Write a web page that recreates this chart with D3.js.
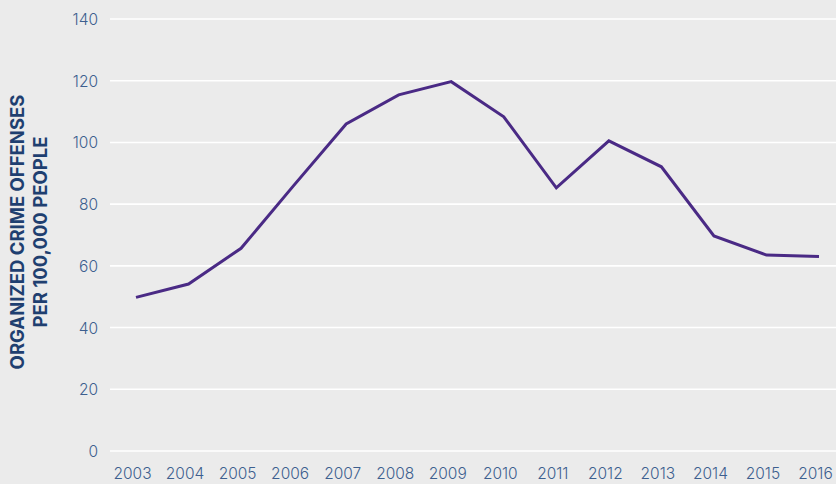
<!DOCTYPE html>
<html>
<head>
<meta charset="utf-8">
<script src="https://cdn.jsdelivr.net/npm/d3@7"></script>
<style>
html,body{margin:0;padding:0;background:#ebebeb;}
svg{display:block;}
</style>
</head>
<body>
<svg id="chart" width="836" height="484"></svg>
<script>
const years = [2003,2004,2005,2006,2007,2008,2009,2010,2011,2012,2013,2014,2015,2016];
const values = [49.8,54.1,65.7,86,106,115.4,119.7,108.3,85.3,100.5,92.1,69.7,63.5,63];
const yTicks = [0,20,40,60,80,100,120,140];
const titleLines = ["ORGANIZED CRIME OFFENSES","PER 100,000 PEOPLE"];

const svg = d3.select("#chart");
const W = 836, H = 484;
svg.append("rect").attr("width",W).attr("height",H).attr("fill","#ebebeb");

const x = d3.scalePoint().domain(years).range([136,819]);
const y = d3.scaleLinear().domain([0,140]).range([451,19]);

const font = "Inter, 'Liberation Sans', sans-serif";

// gridlines
svg.append("g").selectAll("line").data(yTicks).join("line")
  .attr("x1",110).attr("x2",W)
  .attr("y1",d=>y(d)).attr("y2",d=>y(d))
  .attr("stroke","#ffffff").attr("stroke-width",1.6);

// y axis labels
const yAxis = d3.axisLeft(y).tickValues(yTicks).tickSize(0).tickPadding(0);
const gy = svg.append("g").attr("transform","translate(98,0)").call(yAxis);
gy.select(".domain").remove();
gy.selectAll("text").attr("fill","#3d5f8f").style("font-family",font).style("font-size","15.5px").style("font-weight","300").attr("dy","0.35em");

// x axis labels
const xAxis = d3.axisBottom(x).tickSize(0).tickPadding(0).tickFormat(d3.format("d"));
const gx = svg.append("g").attr("transform","translate(-4,468)").call(xAxis);
gx.select(".domain").remove();
gx.selectAll("text").attr("fill","#3d5f8f").style("font-family",font).style("font-size","15.5px").style("font-weight","300").attr("dy","0.71em");

// line
const line = d3.line().x((d,i)=>x(years[i])).y(d=>y(d));
svg.append("path").datum(values).attr("d",line)
  .attr("fill","none").attr("stroke","#4a2a85").attr("stroke-width",3).attr("stroke-linejoin","miter");

// title
const t = svg.append("text").attr("transform","translate(18,232) rotate(-90)")
  .attr("text-anchor","middle").attr("fill","#1f3f70")
  .style("font-family",font).style("font-size","18.5px").style("font-weight","bold");
titleLines.forEach((l,i)=>{
  t.append("tspan").attr("x",0).attr("dy", i===0 ? "0.35em" : "1.2em").text(l);
});
</script>
</body>
</html>
